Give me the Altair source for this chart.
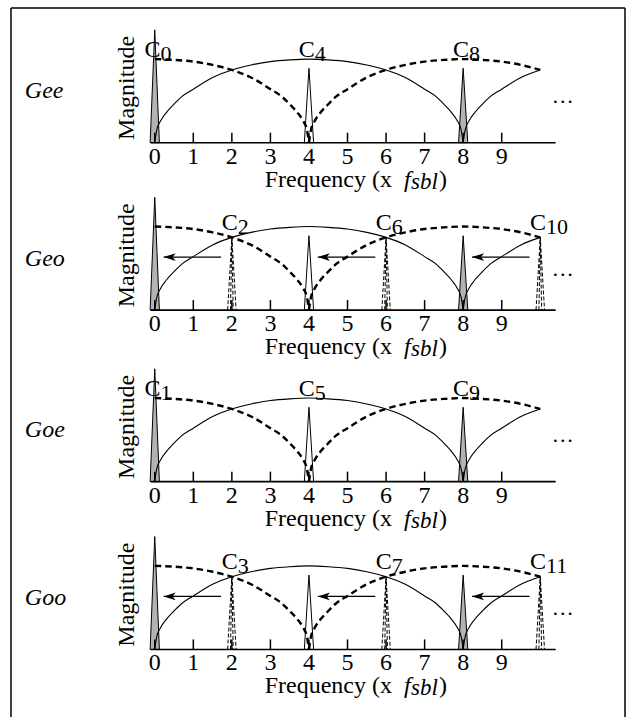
import altair as alt
import pandas as pd

# ---- content -------------------------------------------------------------
PANEL_NAMES = ["Gee", "Geo", "Goe", "Goo"]
COEFF_INDEX = [[0, 4, 8], [2, 6, 10], [1, 5, 9], [3, 7, 11]]
SHIFTED = [False, True, False, True]          # panels whose lines sit between the main ones

# one spectral lobe: magnitude against distance from its centre (x f_sbl)
LOBE_DX = [0.0, 0.5, 1.0, 1.5, 2.0, 2.5, 3.0, 3.3, 3.5, 3.7, 3.85, 3.95, 4.0]
LOBE_MAG = [1.0, 0.99, 0.97, 0.93, 0.87, 0.78, 0.64, 0.55, 0.46, 0.36, 0.26, 0.15, 0.0]

# lobes as (centre, start, end)
SOLID_LOBES = [(4, 0, 8), (12, 8, 10)]
DASHED_LOBES = [(0, 0, 4), (8, 4, 10)]

SPIKE_FREQ = [0, 4, 8]
SPIKE_HEIGHT = [1.35, 0.89, 0.89]
ALIAS_FREQ = [2, 6, 10]
ALIAS_HEIGHT = 0.87
TICKS = list(range(10))

# ---- layout --------------------------------------------------------------
PANEL_BASE = [0.0, -2.003, -4.055, -6.062]
X_DOMAIN = [-3.729, 12.198]
Y_DOMAIN = [-6.870, 1.611]
FONT = "Liberation Serif"
GRAY = "#b3b3b3"
SPIKE_FILL = [GRAY, "transparent", GRAY]
SPIKE_HALF = 0.12

xs = alt.Scale(domain=X_DOMAIN, nice=False, zero=False)
ys = alt.Scale(domain=Y_DOMAIN, nice=False, zero=False)


def X(f="x"):
    return alt.X(f"{f}:Q", scale=xs, axis=None)


def Y(f="y"):
    return alt.Y(f"{f}:Q", scale=ys, axis=None)


def lobe_points(c, a, b):
    pts = set()
    for dx, m in zip(LOBE_DX, LOBE_MAG):
        for x in (c - dx, c + dx):
            if a - 1e-9 <= x <= b + 1e-9:
                pts.add((round(x, 4), m))
    return sorted(pts)


curve_rows, spike_rows, alias_rows, arrow_rows = [], [], [], []
tick_rows, axis_rows, panel_rows, coef_rows, dots_rows = [], [], [], [], []
for p, name in enumerate(PANEL_NAMES):
    base = PANEL_BASE[p]
    for kind, lobes in (("solid", SOLID_LOBES), ("dashed", DASHED_LOBES)):
        for j, (c, a, b) in enumerate(lobes):
            for x, m in lobe_points(c, a, b):
                curve_rows.append(dict(kind=kind, g=f"{p}-{kind}-{j}", x=x, y=base + m))
    for i, (f, h) in enumerate(zip(SPIKE_FREQ, SPIKE_HEIGHT)):
        for x, y in ((f - SPIKE_HALF, 0), (f, h), (f + SPIKE_HALF, 0)):
            spike_rows.append(dict(g=f"{p}-{i}", x=x, y=base + y, base=base,
                                   fill=SPIKE_FILL[i]))
    pos = ALIAS_FREQ if SHIFTED[p] else SPIKE_FREQ
    if SHIFTED[p]:
        for i, f in enumerate(ALIAS_FREQ):
            for k, w in enumerate((0.11, 0.035)):
                for x, y in ((f - w, 0), (f, ALIAS_HEIGHT), (f + w, 0)):
                    alias_rows.append(dict(g=f"{p}-{i}-{k}", x=x, y=base + y))
            arrow_rows.append(dict(x=f - 0.28, x2=f - 1.77, y=base + 0.634))
    for t in TICKS:
        tick_rows.append(dict(x=t, y=base, y2=base + 0.12, label=str(t)))
    axis_rows.append(dict(x=-0.1, x2=10.4, y=base))
    panel_rows.append(dict(name=name, x=-3.37, y=base + 0.53,
                           mx=-0.538, my=base + 0.655, fx=6.154, fy=base))
    ch = 0.96 if SHIFTED[p] else 1.03
    for f, n in zip(pos, COEFF_INDEX[p]):
        coef_rows.append(dict(x=f + 0.15, y=base + ch, sub=str(n)))
    dots_rows.append(dict(x=10.3, y=base + (0.41 if SHIFTED[p] else 0.47)))

curves = pd.DataFrame(curve_rows)
spikes = pd.DataFrame(spike_rows)
aliases = pd.DataFrame(alias_rows)
arrows = pd.DataFrame(arrow_rows)
ticks = pd.DataFrame(tick_rows)
axes = pd.DataFrame(axis_rows)
panels = pd.DataFrame(panel_rows)
coefs = pd.DataFrame(coef_rows)
dots = pd.DataFrame(dots_rows)
border = pd.DataFrame([
    dict(x=X_DOMAIN[0], x2=X_DOMAIN[0], y=Y_DOMAIN[1], y2=Y_DOMAIN[0]),
    dict(x=X_DOMAIN[1], x2=X_DOMAIN[1], y=Y_DOMAIN[1], y2=Y_DOMAIN[0]),
    dict(x=X_DOMAIN[0], x2=X_DOMAIN[1], y=Y_DOMAIN[1], y2=Y_DOMAIN[1]),
])

txt = dict(font=FONT, fontSize=24, color="black")

spike_layer = alt.Chart(spikes).mark_area(
    stroke="black", strokeWidth=1, opacity=1, interpolate="linear"
).encode(x=X(), y=Y(), y2="base:Q", color=alt.Color("fill:N", scale=None), detail="g:N")

solid_layer = alt.Chart(curves[curves.kind == "solid"]).mark_line(
    color="black", strokeWidth=1.1, interpolate="monotone"
).encode(x=X(), y=Y(), detail="g:N")

dashed_layer = alt.Chart(curves[curves.kind == "dashed"]).mark_line(
    color="black", strokeWidth=2.4, strokeDash=[6.5, 4], interpolate="monotone"
).encode(x=X(), y=Y(), detail="g:N")

alias_layer = alt.Chart(aliases).mark_line(
    color="black", strokeWidth=1, strokeDash=[4, 2]
).encode(x=X(), y=Y(), detail="g:N")

arrow_shaft = alt.Chart(arrows).mark_rule(color="black", strokeWidth=1.2).encode(
    x=X(), x2="x2:Q", y=Y())
arrow_head = alt.Chart(arrows).mark_point(
    shape="M0,0 L2,-0.65 L1.5,0 L2,0.65 Z", filled=True, size=144,
    color="black", opacity=1
).encode(x=X("x2"), y=Y())

axis_layer = alt.Chart(axes).mark_rule(color="black", strokeWidth=1.6).encode(
    x=X(), x2="x2:Q", y=Y())
tick_layer = alt.Chart(ticks).mark_rule(color="black", strokeWidth=1.5).encode(
    x=X(), y=Y(), y2="y2:Q")
tick_labels = alt.Chart(ticks).mark_text(dy=21, baseline="alphabetic", **txt).encode(
    x=X(), y=Y(), text="label:N")

name_layer = alt.Chart(panels).mark_text(
    align="left", baseline="alphabetic", fontStyle="italic", **txt
).encode(x=X(), y=Y(), text="name:N")
mag_layer = alt.Chart(panels).mark_text(
    angle=270, align="center", baseline="alphabetic", text="Magnitude", **txt
).encode(x=X("mx"), y=Y("my"))

freq_parts = [
    dict(text="Frequency (x", align="right", dx=0, dy=44, fontStyle="normal", fontSize=24),
    dict(text="f", align="left", dx=12, dy=44, fontStyle="italic", fontSize=24),
    dict(text="sbl", align="left", dx=19, dy=46, fontStyle="italic", fontSize=23),
    dict(text=")", align="left", dx=47, dy=44, fontStyle="normal", fontSize=24),
]
freq_layers = [
    alt.Chart(panels).mark_text(baseline="alphabetic", font=FONT, color="black", **part)
    .encode(x=X("fx"), y=Y("fy"))
    for part in freq_parts
]

coef_c = alt.Chart(coefs).mark_text(
    align="right", baseline="alphabetic", text="C", **txt
).encode(x=X(), y=Y())
coef_sub = alt.Chart(coefs).mark_text(
    align="left", baseline="alphabetic", dy=4, font=FONT, fontSize=22, color="black"
).encode(x=X(), y=Y(), text="sub:N")

dots_layer = alt.Chart(dots).mark_text(
    align="left", baseline="alphabetic", text="\u2026", font=FONT, fontSize=22,
    color="black"
).encode(x=X(), y=Y())

border_layer = alt.Chart(border).mark_rule(color="black", strokeWidth=1.5).encode(
    x=X(), x2="x2:Q", y=Y(), y2="y2:Q")

chart = alt.layer(
    spike_layer, solid_layer, dashed_layer, alias_layer, arrow_shaft, arrow_head,
    axis_layer, tick_layer, tick_labels, name_layer, mag_layer, *freq_layers,
    coef_c, coef_sub, dots_layer, border_layer,
).properties(
    width=614, height=709,
    padding={"left": 11, "top": 8, "right": 10, "bottom": 0},
    autosize=alt.AutoSizeParams(type="none"),
    background="white",
).configure_view(strokeWidth=0)

chart.save("out.html", embed_options={"renderer": "svg", "actions": False})
